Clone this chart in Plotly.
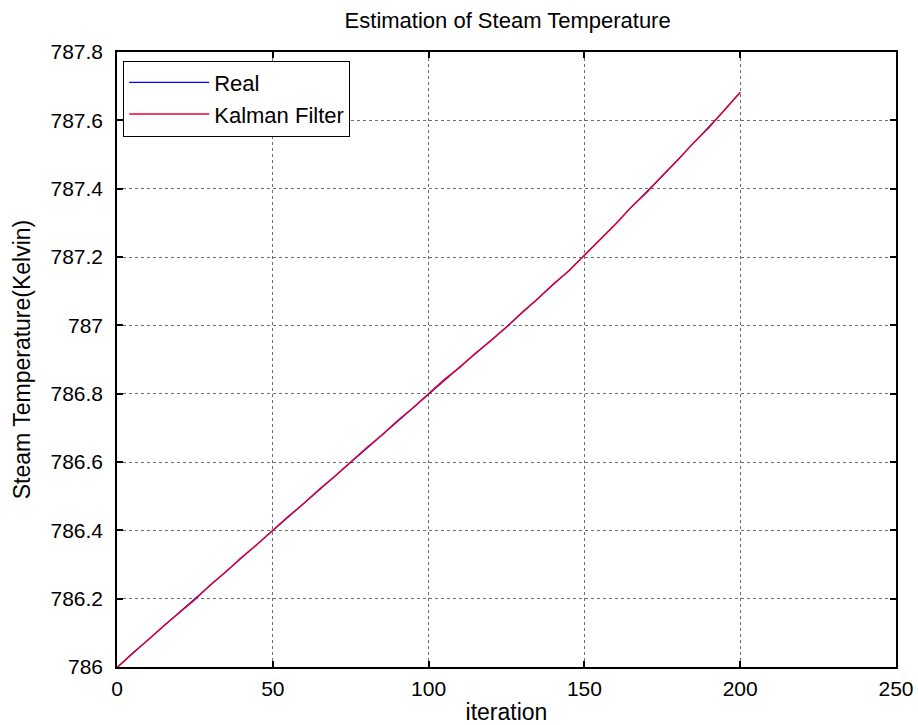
import plotly.graph_objects as go

iterations = [0, 5, 10, 15, 20, 25, 30, 35, 40, 45, 50, 55, 60, 65, 70, 75, 80, 85, 90, 95, 100,
              105, 110, 115, 120, 125, 130, 135, 140, 145, 150, 155, 160, 165, 170, 175, 180,
              185, 190, 195, 200]
kalman = [785.998, 786.041, 786.079, 786.121, 786.159, 786.197, 786.241, 786.279, 786.321,
          786.359, 786.400, 786.441, 786.479, 786.521, 786.559, 786.600, 786.641, 786.679,
          786.721, 786.759, 786.800, 786.841, 786.877, 786.918, 786.955, 786.995, 787.038,
          787.077, 787.121, 787.159, 787.205, 787.251, 787.296, 787.346, 787.389, 787.438,
          787.484, 787.534, 787.579, 787.631, 787.682]
real = [785.998, 786.040, 786.080, 786.120, 786.160, 786.198, 786.240, 786.280, 786.320,
        786.360, 786.400, 786.440, 786.480, 786.520, 786.560, 786.600, 786.640, 786.680,
        786.720, 786.760, 786.800, 786.840, 786.878, 786.917, 786.956, 786.995, 787.037,
        787.078, 787.120, 787.160, 787.205, 787.250, 787.297, 787.345, 787.390, 787.437,
        787.485, 787.533, 787.580, 787.630, 787.682]

x_ticks = [0, 50, 100, 150, 200, 250]
y_ticks = [786.0, 786.2, 786.4, 786.6, 786.8, 787.0, 787.2, 787.4, 787.6, 787.8]
y_tick_labels = ["786", "786.2", "786.4", "786.6", "786.8", "787", "787.2", "787.4", "787.6", "787.8"]

FONT = "Liberation Sans, Arial, Helvetica, sans-serif"

fig = go.Figure()
fig.add_trace(go.Scatter(x=iterations, y=real, mode="lines", name="Real",
                         line=dict(color="#0000ff", width=1.2)))
fig.add_trace(go.Scatter(x=iterations, y=kalman, mode="lines", name="Kalman Filter",
                         line=dict(color="#e8002a", width=1.4)))

axis_common = dict(
    showline=True, linecolor="black", linewidth=1.5, mirror="allticks",
    ticks="inside", ticklen=6, tickcolor="black", tickwidth=1.5,
    showgrid=True, gridcolor="rgba(60,60,60,0.75)", gridwidth=1, griddash="dot",
    zeroline=False, automargin=False,
    tickfont=dict(size=21, color="black", family=FONT),
)

fig.update_layout(
    width=918, height=725,
    margin=dict(l=117, r=22, t=52, b=58, autoexpand=False),
    paper_bgcolor="white", plot_bgcolor="white",
    font=dict(family=FONT, color="black"),
    title=dict(text="Estimation of Steam Temperature", x=0.553, xanchor="center",
               y=0.972, yanchor="middle", font=dict(size=22, color="black", family=FONT)),
    xaxis=dict(range=[0, 250], tickvals=x_ticks, ticklabelstandoff=2,
               title=dict(text="iteration", font=dict(size=23), standoff=10), **axis_common),
    yaxis=dict(range=[786.0, 787.8], tickvals=y_ticks, ticktext=y_tick_labels,
               ticklabelstandoff=8,
               title=dict(text="Steam Temperature(Kelvin)", font=dict(size=23), standoff=13),
               **axis_common),
    legend=dict(x=0.008, y=0.986, xanchor="left", yanchor="top",
                bgcolor="white", bordercolor="black", borderwidth=1,
                font=dict(size=22, color="black", family=FONT),
                itemwidth=80, tracegroupgap=2),
    showlegend=True,
)

fig.write_html("out.html", config={"displayModeBar": False},
               post_script="document.body.style.margin='0';document.body.style.overflow='hidden';")
